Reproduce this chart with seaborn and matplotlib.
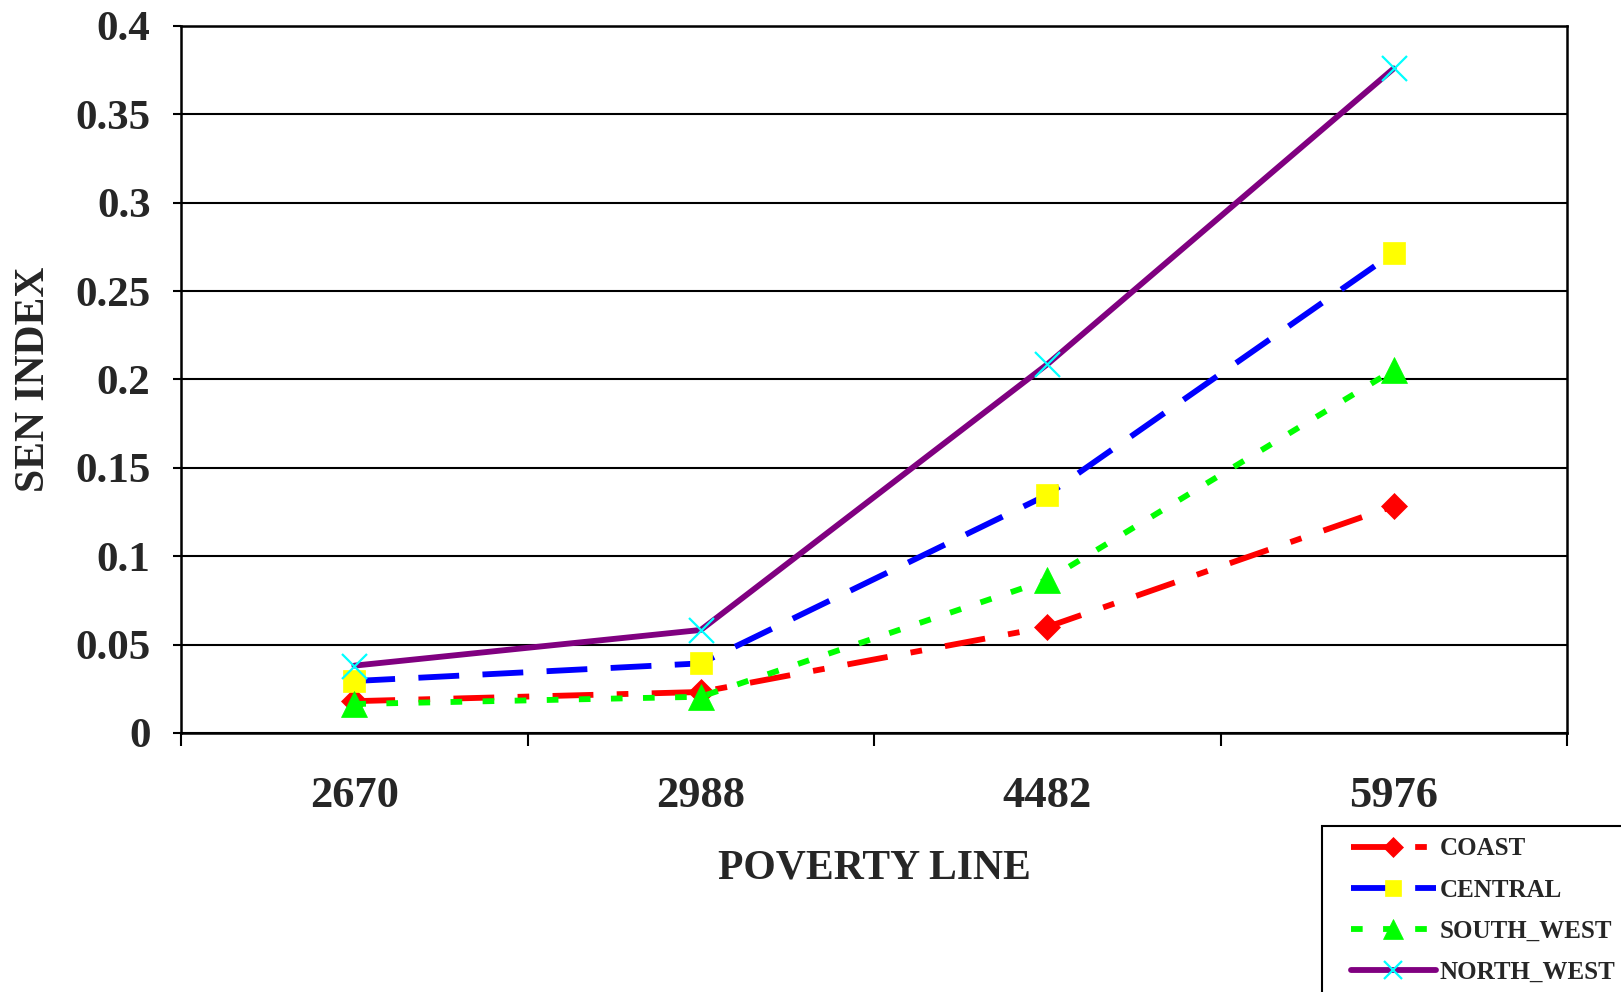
import matplotlib
matplotlib.use("Agg")
import matplotlib.pyplot as plt
import seaborn as sns
import pandas as pd
from matplotlib.legend_handler import HandlerLine2D
from matplotlib.lines import Line2D

# Poverty lines (categories) and Sen index per region
poverty_lines = ["2670", "2988", "4482", "5976"]
coast = [0.018, 0.0232, 0.0600, 0.1284]
central = [0.0294, 0.0394, 0.1347, 0.2717]
south_west = [0.0164, 0.0205, 0.0866, 0.2054]
north_west = [0.0381, 0.0583, 0.2086, 0.3760]

y_ticks = [0, 0.05, 0.1, 0.15, 0.2, 0.25, 0.3, 0.35, 0.4]
y_tick_labels = ["0", "0.05", "0.1", "0.15", "0.2", "0.25", "0.3", "0.35", "0.4"]

sns.set_style("white")
plt.rcParams["font.family"] = ["Liberation Serif", "DejaVu Serif"]
plt.rcParams["font.weight"] = "bold"

fig = plt.figure(figsize=(16.21, 9.92), dpi=100)
ax = fig.add_axes([0.1117, 0.2611, 0.8550, 0.7127])

pos = list(range(len(poverty_lines)))
df = pd.DataFrame({
    "pos": pos,
    "COAST": coast,
    "CENTRAL": central,
    "SOUTH_WEST": south_west,
    "NORTH_WEST": north_west,
})

series = [
    dict(name="COAST", color="#ff0000", ls=(0, (7, 4, 2, 4)), marker="D",
         ms=13, mfc="#ff0000", mec="#ff0000", mew=0.5),
    dict(name="CENTRAL", color="#0000ff", ls=(0, (7, 4)), marker="s",
         ms=16, mfc="#ffff00", mec="#ffff00", mew=0.5),
    dict(name="SOUTH_WEST", color="#00ff00", ls=(0, (2, 3.5)), marker="^",
         ms=19, mfc="#00ff00", mec="#00ff00", mew=0.5),
    dict(name="NORTH_WEST", color="#800080", ls="-", marker="x",
         ms=18, mfc="#00ffff", mec="#00ffff", mew=1.6),
]

for s in series:
    sns.lineplot(data=df, x="pos", y=s["name"], ax=ax, color=s["color"],
                 linestyle=s["ls"], linewidth=4.2, marker=s["marker"],
                 markersize=s["ms"], markerfacecolor=s["mfc"],
                 markeredgecolor=s["mec"], markeredgewidth=s["mew"],
                 label=s["name"], clip_on=False)

ax.set_xlim(-0.5, 3.5)
ax.set_ylim(0, 0.4)

# Category boundaries carry the tick marks, centres carry the labels
ax.set_xticks([-0.5, 0.5, 1.5, 2.5, 3.5])
ax.set_xticklabels([])
ax.set_xticks(pos, minor=True)
ax.set_xticklabels(poverty_lines, minor=True, fontsize=32, fontweight="bold")
ax.tick_params(axis="x", which="major", direction="out", length=9, width=1.5,
               color="black", bottom=True)
ax.tick_params(axis="x", which="minor", length=0, pad=31)

ax.set_yticks(y_ticks)
ax.set_yticklabels(y_tick_labels, fontsize=31, fontweight="bold")
ax.tick_params(axis="y", direction="out", length=6, width=1.5, color="black",
               left=True, pad=16)

ax.yaxis.grid(True, color="black", linewidth=1.5)
ax.xaxis.grid(False)
ax.set_axisbelow(True)

for side in ["left", "right", "bottom", "top"]:
    ax.spines[side].set_visible(True)
    ax.spines[side].set_color("black")
    ax.spines[side].set_linewidth(1.8)

ax.set_xlabel("POVERTY LINE", fontsize=30, fontweight="bold", labelpad=24)
ax.set_ylabel("SEN INDEX", fontsize=30, fontweight="bold", labelpad=16)

# Legend handles are inset from the frame's left edge
handle_inset = 0.7
leg = ax.legend(loc="upper left", bbox_to_anchor=(0.8156, 0.1673),
                bbox_transform=fig.transFigure, frameon=True, fancybox=False,
                prop={"family": "Liberation Serif", "weight": "bold", "size": 18},
                handlelength=3.4 + handle_inset, handletextpad=0.15,
                labelspacing=0.73, borderpad=0.45, borderaxespad=0,
                markerscale=0.75,
                handler_map={Line2D: HandlerLine2D(xpad=handle_inset)})
leg.get_frame().set_edgecolor("black")
leg.get_frame().set_linewidth(1.5)
leg.get_frame().set_alpha(1)

fig.savefig("out.png", dpi=100, facecolor="white")
